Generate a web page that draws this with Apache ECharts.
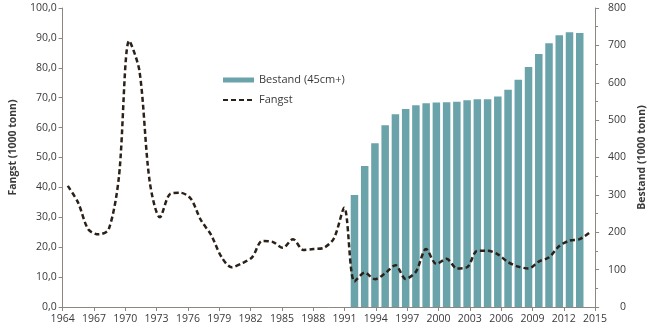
<!DOCTYPE html>
<html>
<head>
<meta charset="utf-8">
<script src="https://cdn.jsdelivr.net/npm/echarts@6/dist/echarts.min.js"></script>
<style>
  html, body { margin: 0; padding: 0; background: #fff; }
  #chart { width: 656px; height: 329px; }
</style>
</head>
<body>
<div id="chart"></div>
<script>
// Categories (one per year of the catch series)
const years = ['1964','1965','1966','1967','1968','1969','1970','1971','1972','1973',
  '1974','1975','1976','1977','1978','1979','1980','1981','1982','1983',
  '1984','1985','1986','1987','1988','1989','1990','1991','1992','1993',
  '1994','1995','1996','1997','1998','1999','2000','2001','2002','2003',
  '2004','2005','2006','2007','2008','2009','2010','2011','2012','2013',
  '2014','2015'];

// Fangst (1000 tonn), left axis
const fangst = [40.5, 35.0, 26.0, 24.3, 26.0, 43.6, 89.0, 79.0, 42.0, 30.0,
  37.8, 38.2, 36.3, 29.1, 24.1, 16.8, 13.3, 14.6, 16.6, 22.1,
  21.8, 19.8, 22.7, 19.1, 19.4, 19.8, 23.0, 33.2, 8.5, 11.5,
  9.3, 11.3, 14.0, 9.4, 11.8, 19.4, 14.4, 16.1, 12.9, 13.3,
  18.8, 18.8, 17.6, 15.0, 13.5, 12.9, 15.2, 16.6, 20.4, 22.2,
  22.7, 25.0];

// Bestand (45cm+) (1000 tonn), right axis
const bestandYears = ['1992','1993','1994','1995','1996','1997','1998','1999','2000','2001',
  '2002','2003','2004','2005','2006','2007','2008','2009','2010','2011',
  '2012','2013','2014'];
const bestand = [300, 377, 438, 486, 516, 530, 540, 545, 547, 548,
  549, 553, 556, 556, 563, 581, 608, 642, 677, 706,
  727, 735, 733];

// Tick labels
const leftTicks = { min: 0, max: 100, interval: 10 };
const rightTicks = { min: 0, max: 800, interval: 100 };
const xTicks = { min: 1964, max: 2015, interval: 3 };

const bestandData = years.map(y => {
  const i = bestandYears.indexOf(y);
  return i >= 0 ? bestand[i] : null;
});

const axisColor = '#8c8781';
const textColor = '#3a3a3a';
const lineColor = '#2b2119';
const font = 'Open Sans';

const chart = echarts.init(document.getElementById('chart'));
chart.setOption({
  animation: false,
  backgroundColor: '#ffffff',
  textStyle: { fontFamily: font },
  grid: { left: 50, right: 45, top: 8, bottom: 22, containLabel: false },
  legend: {
    orient: 'vertical',
    left: 222,
    top: 73,
    padding: 0,
    itemWidth: 31,
    itemHeight: 5,
    itemGap: 6,
    textStyle: { fontFamily: font, fontSize: 11, color: textColor, lineHeight: 14 },
    data: [
      { name: 'Bestand (45cm+)', icon: 'rect' },
      { name: 'Fangst', itemStyle: { color: 'transparent', borderWidth: 0 } }
    ]
  },
  xAxis: [
    {
      type: 'category',
      data: years,
      boundaryGap: true,
      show: false,
      position: 'bottom'
    },
    {
      type: 'value',
      position: 'bottom',
      min: xTicks.min,
      max: xTicks.max,
      interval: xTicks.interval,
      axisLine: { show: true, onZero: false, lineStyle: { color: axisColor, width: 1 } },
      axisTick: { show: true, length: 4, lineStyle: { color: axisColor } },
      splitLine: { show: false },
      axisLabel: { color: textColor, fontSize: 10.5, margin: 7, formatter: v => String(v) }
    }
  ],
  yAxis: [
    {
      type: 'value',
      position: 'left',
      min: leftTicks.min,
      max: leftTicks.max,
      interval: leftTicks.interval,
      name: 'Fangst (1000 tonn)',
      nameLocation: 'middle',
      nameGap: 36,
      nameRotate: 90,
      nameTextStyle: { fontWeight: 'bold', fontSize: 10.5, color: textColor, padding: [0, 0, 0, 20] },
      axisLine: { show: true, lineStyle: { color: axisColor, width: 1 } },
      axisTick: { show: true, length: 4, lineStyle: { color: axisColor } },
      splitLine: { show: false },
      axisLabel: {
        color: textColor, fontSize: 10.5, margin: 6,
        formatter: v => v.toFixed(1).replace('.', ',')
      }
    },
    {
      type: 'value',
      position: 'right',
      min: rightTicks.min,
      max: rightTicks.max,
      interval: rightTicks.interval,
      name: 'Bestand (1000 tonn)',
      nameLocation: 'middle',
      nameGap: 34,
      nameRotate: 90,
      nameTextStyle: { fontWeight: 'bold', fontSize: 10.5, color: textColor },
      axisLine: { show: true, lineStyle: { color: axisColor, width: 1 } },
      axisTick: { show: true, length: 4, lineStyle: { color: axisColor } },
      minorTick: { show: true, splitNumber: 2, length: 3, lineStyle: { color: axisColor } },
      splitLine: { show: false },
      axisLabel: { color: textColor, fontSize: 10.5, margin: 31, align: 'right' }
    }
  ],
  series: [
    {
      name: 'Bestand (45cm+)',
      type: 'bar',
      xAxisIndex: 0,
      yAxisIndex: 1,
      data: bestandData,
      barWidth: 7.5,
      itemStyle: { color: '#6ba3aa' }
    },
    {
      name: 'Fangst',
      type: 'line',
      xAxisIndex: 0,
      yAxisIndex: 0,
      data: fangst,
      symbol: 'none',
      smooth: 0.3,
      z: 5,
      itemStyle: { color: lineColor },
      lineStyle: { color: lineColor, width: 2.5, type: [5, 3], cap: 'butt' }
    }
  ]
});
</script>
</body>
</html>
